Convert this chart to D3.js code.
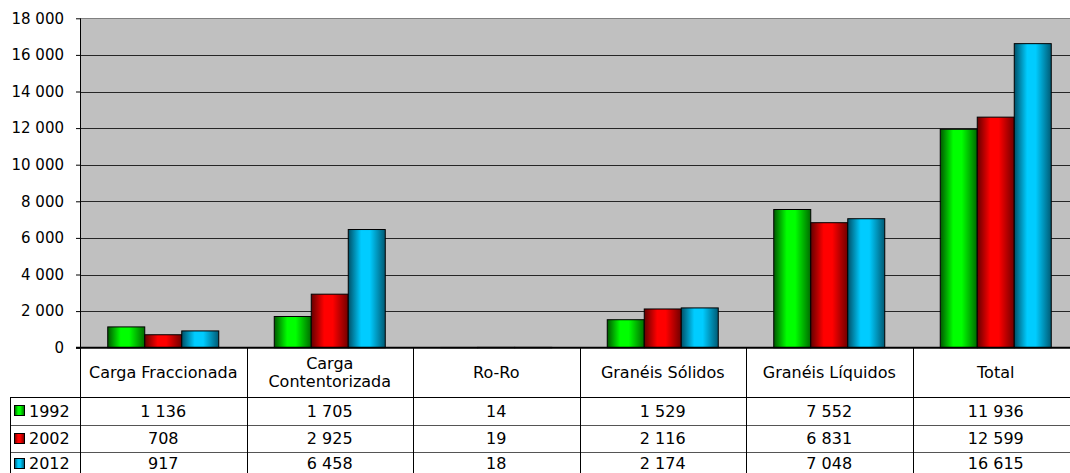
<!DOCTYPE html>
<html>
<head>
<meta charset="utf-8">
<script src="https://cdn.jsdelivr.net/npm/d3@7"></script>
<style>
  body { margin: 0; background: #fff; }
  svg { display: block; font-family: "DejaVu Sans", Verdana, sans-serif; }
  text { fill: #000; }
</style>
</head>
<body>
<svg width="1070" height="473"></svg>
<script>
'use strict';

// Data.
const categories = ['Carga Fraccionada', 'Carga Contentorizada', 'Ro-Ro', 'Granéis Sólidos', 'Granéis Líquidos', 'Total'];
const years = ['1992', '2002', '2012'];
const values1992 = [1136, 1705, 14, 1529, 7552, 11936];
const values2002 = [708, 2925, 19, 2116, 6831, 12599];
const values2012 = [917, 6458, 18, 2174, 7048, 16615];
const yTicks = [0, 2000, 4000, 6000, 8000, 10000, 12000, 14000, 16000, 18000];

const series = [values1992, values2002, values2012];

// Gradient stops per series: edge, highlight, edge.
const palette = [
  ['#005800', '#00ff00', '#006a00'],
  ['#640000', '#ff0000', '#700000'],
  ['#005068', '#00ccff', '#005a74']
];

const svg = d3.select('svg');
const locale = d3.formatLocale({decimal: ',', thousands: ' ', grouping: [3], currency: ['', '']});
const fmt = locale.format(',d');

const plot = {left: 80, top: 18.3, bottom: 347.7, colW: 166.5};
const rowY = [347.7, 397, 424.5, 452, 479.5];
// Text centre of each data row; the last row is clipped by the window, so keep its text a little higher.
const rowTextY = [411, 438.5, 463.5];
const tableFont = 16;

const x = d3.scaleBand()
  .domain(categories)
  .range([plot.left, plot.left + plot.colW * categories.length])
  .padding(0);

const xs = d3.scaleBand()
  .domain(years)
  .range([0, x.bandwidth()])
  .paddingInner(0)
  .paddingOuter(0.75);

const y = d3.scaleLinear()
  .domain([0, 18000])
  .range([plot.bottom, plot.top]);

// Gradients
const defs = svg.append('defs');
palette.forEach((p, i) => {
  const g = defs.append('linearGradient')
    .attr('id', 'grad' + i)
    .attr('x1', 0).attr('x2', 1).attr('y1', 0).attr('y2', 0);
  g.append('stop').attr('offset', '0%').attr('stop-color', p[0]);
  g.append('stop').attr('offset', '35%').attr('stop-color', p[1]);
  g.append('stop').attr('offset', '58%').attr('stop-color', p[1]);
  g.append('stop').attr('offset', '100%').attr('stop-color', p[2]);
});

// Plot background
svg.append('rect')
  .attr('x', plot.left)
  .attr('y', plot.top)
  .attr('width', 1070 - plot.left)
  .attr('height', plot.bottom - plot.top)
  .attr('fill', '#c0c0c0');

// Gridlines
svg.append('g')
  .selectAll('line')
  .data(yTicks.filter(t => t > 0))
  .join('line')
  .attr('x1', plot.left)
  .attr('x2', 1070)
  .attr('y1', d => Math.round(y(d)) + 0.5)
  .attr('y2', d => Math.round(y(d)) + 0.5)
  .attr('stroke', d => d === 18000 ? '#808080' : '#262626')
  .attr('stroke-width', 1);

// Y axis
const yAxis = d3.axisLeft(y)
  .tickValues(yTicks)
  .tickSize(4)
  .tickPadding(12)
  .tickFormat(fmt);

const gy = svg.append('g')
  .attr('transform', `translate(${plot.left},0)`)
  .call(yAxis);
gy.select('.domain').attr('stroke', '#000').attr('d', `M0.5,${plot.top}V${plot.bottom}`);
gy.selectAll('.tick line').attr('stroke', '#000');
gy.selectAll('.tick text')
  .attr('font-size', 15)
  .attr('font-family', '"DejaVu Sans", Verdana, sans-serif')
  .attr('fill', '#000');

// Bars
const groups = svg.append('g')
  .selectAll('g')
  .data(series)
  .join('g')
  .attr('fill', (d, i) => `url(#grad${i})`);

groups.selectAll('rect')
  .data((d, i) => d.map((v, j) => ({v, cat: categories[j], year: years[i]})))
  .join('rect')
  .attr('x', d => x(d.cat) + xs(d.year))
  .attr('y', d => y(d.v))
  .attr('width', xs.bandwidth())
  .attr('height', d => y(0) - y(d.v))
  .attr('stroke', '#000')
  .attr('stroke-width', 1);

// Table
const table = svg.append('g');

// Horizontal lines
table.append('line')
  .attr('x1', plot.left - 4).attr('x2', 1070)
  .attr('y1', plot.bottom).attr('y2', plot.bottom)
  .attr('stroke', '#000').attr('stroke-width', 2);

table.selectAll('line.row')
  .data(rowY.slice(1, 4))
  .join('line')
  .attr('class', 'row')
  .attr('x1', 10).attr('x2', 1070)
  .attr('y1', d => Math.round(d) + 0.5)
  .attr('y2', d => Math.round(d) + 0.5)
  .attr('stroke', (d, i) => i === 0 ? '#000' : '#555');

// Vertical lines
const colEdges = categories.map(c => x(c));
table.selectAll('line.col')
  .data(colEdges)
  .join('line')
  .attr('class', 'col')
  .attr('x1', d => Math.round(d) + 0.5)
  .attr('x2', d => Math.round(d) + 0.5)
  .attr('y1', plot.bottom)
  .attr('y2', 473)
  .attr('stroke', '#000');

table.append('line')
  .attr('x1', 10.5).attr('x2', 10.5)
  .attr('y1', rowY[1]).attr('y2', 473)
  .attr('stroke', '#000');

// Header labels
const headerLines = {
  'Carga Contentorizada': ['Carga', 'Contentorizada']
};
categories.forEach(c => {
  const lines = headerLines[c] || [c];
  const cy = (rowY[0] + rowY[1]) / 2;
  lines.forEach((t, k) => {
    table.append('text')
      .attr('x', x(c) + x.bandwidth() / 2)
      .attr('y', cy + (k - (lines.length - 1) / 2) * 18)
      .attr('dy', '0.35em')
      .attr('text-anchor', 'middle')
      .attr('font-size', tableFont)
      .text(t);
  });
});

// Values and legend keys
series.forEach((vals, i) => {
  const cy = rowTextY[i];
  table.append('rect')
    .attr('x', 14.5).attr('y', Math.round(cy) - 5.5)
    .attr('width', 10).attr('height', 10)
    .attr('fill', `url(#grad${i})`)
    .attr('stroke', '#000');
  table.append('text')
    .attr('x', 29).attr('y', cy)
    .attr('dy', '0.35em')
    .attr('font-size', tableFont)
    .text(years[i]);
  vals.forEach((v, j) => {
    table.append('text')
      .attr('x', x(categories[j]) + x.bandwidth() / 2)
      .attr('y', cy)
      .attr('dy', '0.35em')
      .attr('text-anchor', 'middle')
      .attr('font-size', tableFont)
      .text(fmt(v));
  });
});
</script>
</body>
</html>
